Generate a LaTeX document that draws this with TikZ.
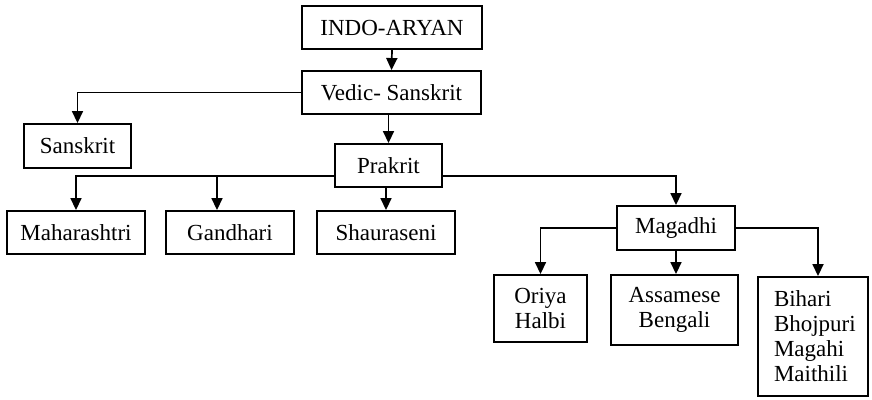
\documentclass[tikz,border=0pt]{standalone}
\usepackage{fontspec}
\setmainfont{Liberation Serif}
\usetikzlibrary{arrows.meta,calc}
\begin{document}
\begin{tikzpicture}[x=1pt,y=-1pt,
  box/.style={draw,line width=1.9pt,inner sep=0pt,font=\fontsize{23}{25}\selectfont,align=center},
  arr/.style={line width=1.7pt,-{Triangle[length=12pt,width=11pt]}},
  ln/.style={line width=1.7pt}]
\useasboundingbox[fill=white] (0,0) rectangle (872,399);
\node[box,minimum width=180,minimum height=43] (indo) at (392,27.5) {INDO-ARYAN};
\node[box,minimum width=179,minimum height=43] (vedic) at (391.5,92.5) {Vedic- Sanskrit};
\node[box,minimum width=107,minimum height=44] (sanskrit) at (77.5,146) {Sanskrit};
\node[box,minimum width=107,minimum height=43] (prakrit) at (388.5,165.5) {Prakrit};
\node[box,minimum width=138,minimum height=43] (maha) at (76,232.5) {Maharashtri};
\node[box,minimum width=128,minimum height=43] (gandh) at (230,232.5) {Gandhari};
\node[box,minimum width=138,minimum height=43] (shaur) at (386,232.5) {Shauraseni};
\node[box,minimum width=118,minimum height=44] (magadhi) at (676,228) {Magadhi};
\node[box,minimum width=93,minimum height=67] (oriya) at (540.5,308.5) {Oriya\\Halbi};
\node[box,minimum width=127,minimum height=70] (assam) at (674.5,310) {Assamese\\Bengali};
\node[box,align=left,minimum width=110,minimum height=119,text width=78] (bihari) at (813,336.5) {Bihari\\Bhojpuri\\Magahi\\Maithili};
% connectors
\draw[arr] (indo.south) -- (vedic.north);
\draw[arr] (vedic.west) -| (sanskrit.north);
\draw[arr] (prakrit.north |- vedic.south) -- (prakrit.north);
\coordinate (pw) at ([yshift=-10.5pt]prakrit.west);
\coordinate (pe) at ([yshift=-10.5pt]prakrit.east);
\coordinate (gb) at (217,176);
\draw[arr] (pw) -| (maha.north);
\draw[arr] (gb) -- (gb |- gandh.north);
\draw[arr] (shaur.north |- prakrit.south) -- (shaur.north);
\draw[arr] (pe) -| (magadhi.north);
\draw[arr] (magadhi.west) -| (oriya.north);
\draw[arr] (magadhi.south) -- (magadhi.south |- assam.north);
\draw[arr] (magadhi.east) -| ([xshift=5pt]bihari.north);
\end{tikzpicture}
\end{document}
